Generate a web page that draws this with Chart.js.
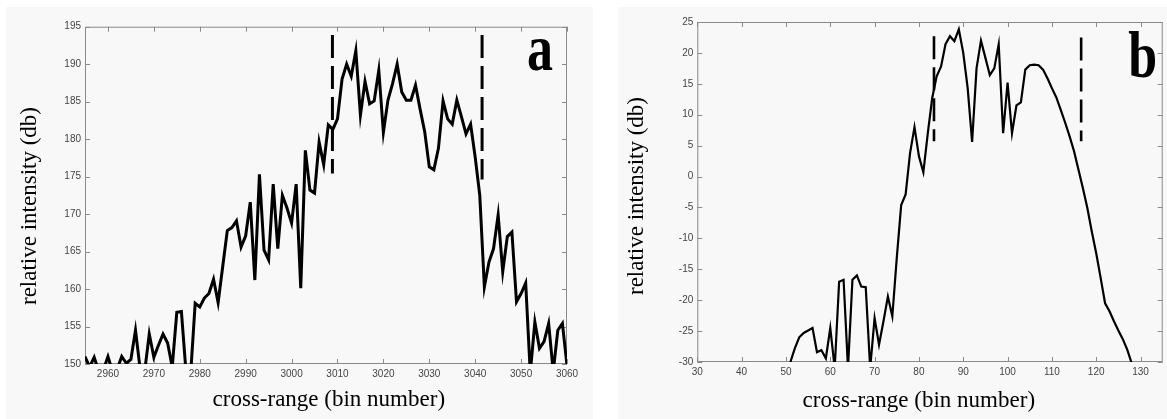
<!DOCTYPE html>
<html>
<head>
<meta charset="utf-8">
<title>cross-range profiles</title>
<script src="https://cdn.jsdelivr.net/npm/chart.js@4.4.0/dist/chart.umd.min.js"></script>
<style>
    body { margin: 0; background: #ffffff; width: 1167px; height: 419px; position: relative; overflow: hidden; }
    .panel { position: absolute; background: #f8f8f8; }
    #panelA { left: 6px; top: 7px; width: 587px; height: 412px; }
    #panelB { left: 618px; top: 7px; width: 549px; height: 412px; }
    canvas { display: block; }
</style>
</head>
<body>
<div class="panel" id="panelA"><canvas id="chartA" width="587" height="412"></canvas></div>
<div class="panel" id="panelB"><canvas id="chartB" width="549" height="412"></canvas></div>
<script>
//////////////
//
//   PANEL A  (bins 2955 - 3060)
//
//////////////

    var firstBinA = 2955;
    var intensityA = [
        151.0, 149.6, 150.9, 149.0, 149.2, 151.0, 149.0, 149.3, 151.0, 150.1,   // 2955-2964
        150.6, 154.5, 149.4, 149.0, 154.0, 150.9, 152.5, 154.0, 152.8, 149.6,   // 2965-2974
        156.9, 157.0, 149.0, 148.5, 158.1, 157.6, 158.8, 159.4, 161.3, 158.2,   // 2975-2984
        163.0, 167.8, 168.2, 169.1, 165.6, 167.1, 171.6, 161.2, 175.3, 165.2,   // 2985-2994
        163.9, 174.0, 165.4, 172.5, 170.8, 168.8, 174.0, 160.1, 178.5, 173.2,   // 2995-3004
        172.8, 179.6, 176.6, 181.9, 181.3, 182.7, 188.0, 190.0, 188.4, 191.8,   // 3005-3014
        183.2, 187.7, 184.7, 185.1, 189.2, 180.9, 185.2, 187.4, 190.0, 186.3,   // 3015-3024
        185.2, 185.2, 187.2, 184.0, 181.0, 176.3, 175.9, 178.8, 185.1, 182.7,   // 3025-3034
        182.0, 185.2, 183.0, 180.7, 182.0, 177.6, 172.5, 160.3, 163.6, 165.4,   // 3035-3044
        169.9, 162.3, 167.0, 167.6, 158.3, 159.4, 160.8, 148.8, 155.6, 152.1,   // 3045-3054
        153.0, 155.4, 149.0, 154.5, 155.4, 149.8                                // 3055-3060
    ];
    // dashed window limits: [bin, top, bottom]
    var windowA = [[3008.9, 193.9, 175.4], [3041.5, 193.9, 174.6]];
    var xTicksA = [2960, 2970, 2980, 2990, 3000, 3010, 3020, 3030, 3040, 3050, 3060];
    var yTicksA = [150, 155, 160, 165, 170, 175, 180, 185, 190, 195];

//////////////
//
//   PANEL B  (bins 30 - 135)
//
//////////////

    var firstBinB = 50;
    var intensityB = [
        -32.0, -30.0, -27.8, -26.0, -25.3, -24.9, -24.5, -28.4, -28.1, -29.4,   // 50-59
        -24.5, -31.0, -17.0, -16.7, -31.0, -16.7, -16.0, -17.8, -17.9, -31.0,   // 60-69
        -22.9, -27.2, -23.4, -19.4, -22.6, -13.2,  -4.6,  -2.9,   3.8,   8.0,   // 70-79
          3.3,   0.7,   7.0,  12.7,  16.2,  17.8,  21.4,  22.7,  21.9,  23.8,   // 80-89
         20.0,  14.3,   5.6,  17.5,  22.0,  19.2,  16.4,  17.5,  21.4,   7.0,   // 90-99
         15.2,   7.0,  11.5,  12.0,  17.3,  18.0,  18.1,  18.0,  17.3,  15.9,   // 100-109
         14.3,  12.8,  10.8,   8.7,   6.5,   4.1,   1.1,  -1.9,  -5.1,  -8.9,   // 110-119
        -12.4, -16.4, -20.5, -21.8, -23.4, -24.9, -26.3, -28.0, -30.2, -32.5    // 120-129
    ];
    var windowB = [[83.4, 22.7, 5.7], [116.6, 22.5, 5.7]];
    var xTicksB = [30, 40, 50, 60, 70, 80, 90, 100, 110, 120, 130];
    var yTicksB = [-30, -25, -20, -15, -10, -5, 0, 5, 10, 15, 20, 25];


    var tickFont = { family: '"Liberation Sans", Arial, sans-serif', size: 10 };
    var tickColor = '#444444';
    var boxColor = '#8a8a8a';

    function toPoints(firstBin, values) {
        return values.map(function (v, i) {
            return { x: firstBin + i, y: v };
        });
    }

    // box, inward tick marks, axis titles and panel letter (MATLAB look)
    var panelDecor = {
        id: 'panelDecor',
        beforeDatasetsDraw: function (chart, args, opts) {
            var ctx = chart.ctx, a = chart.chartArea;
            var xs = chart.scales.x, ys = chart.scales.y;
            ctx.save();
            ctx.strokeStyle = boxColor;
            ctx.lineWidth = 1;
            ctx.strokeRect(a.left + 0.5, a.top + 0.5, a.right - a.left - 1, a.bottom - a.top - 1);
            ctx.beginPath();
            xs.ticks.forEach(function (t) {
                var px = Math.round(xs.getPixelForValue(t.value)) + 0.5;
                ctx.moveTo(px, a.bottom); ctx.lineTo(px, a.bottom - 5);
                ctx.moveTo(px, a.top); ctx.lineTo(px, a.top + 5);
            });
            ys.ticks.forEach(function (t) {
                var py = Math.round(ys.getPixelForValue(t.value)) + 0.5;
                ctx.moveTo(a.left, py); ctx.lineTo(a.left + 5, py);
                ctx.moveTo(a.right, py); ctx.lineTo(a.right - 5, py);
            });
            ctx.stroke();
            ctx.restore();
        },
        afterDraw: function (chart, args, opts) {
            var ctx = chart.ctx;
            ctx.save();
            ctx.fillStyle = '#000000';
            ctx.font = '23px "Liberation Serif", "Times New Roman", serif';
            ctx.textAlign = 'center';
            ctx.textBaseline = 'middle';
            ctx.fillText('cross-range (bin number)', opts.xTitle[0], opts.xTitle[1]);

            ctx.save();
            ctx.translate(opts.yTitle[0], opts.yTitle[1]);
            ctx.rotate(-Math.PI / 2);
            ctx.fillText('relative intensity (db)', 0, 0);
            ctx.restore();

            // bold panel letter, drawn a little taller than wide
            ctx.translate(opts.letterAt[0], opts.letterAt[1]);
            ctx.scale(1, 1.28);
            ctx.font = 'bold 52px "Liberation Serif", "Times New Roman", serif';
            ctx.textAlign = 'left';
            ctx.textBaseline = 'alphabetic';
            ctx.fillText(opts.letter, 0, 0);
            ctx.restore();
        }
    };

    function makeChart(id, cfg) {
        var datasets = [{
            data: toPoints(cfg.firstBin, cfg.values),
            borderColor: '#000000',
            borderWidth: cfg.lineWidth,
            pointRadius: 0,
            tension: 0,
            clip: 0
        }];
        cfg.window.forEach(function (w) {
            datasets.push({
                data: [{ x: w[0], y: w[1] }, { x: w[0], y: w[2] }],
                borderColor: '#000000',
                borderWidth: cfg.dashWidth,
                borderDash: [23, 8],
                pointRadius: 0,
                clip: 0
            });
        });

        var ctx = document.getElementById(id).getContext('2d');
        return new Chart(ctx, {
            type: 'line',
            data: { datasets: datasets },
            plugins: [panelDecor],
            options: {
                responsive: false,
                animation: false,
                layout: { padding: { top: cfg.padTop, right: cfg.padRight, left: 0, bottom: 0 } },
                plugins: {
                    legend: { display: false },
                    tooltip: { enabled: false },
                    panelDecor: { xTitle: cfg.xTitle, yTitle: cfg.yTitle, letter: cfg.letter, letterAt: cfg.letterAt }
                },
                scales: {
                    x: {
                        type: 'linear',
                        min: cfg.xMin,
                        max: cfg.xMax,
                        afterBuildTicks: function (s) { s.ticks = cfg.xTicks.map(function (v) { return { value: v }; }); },
                        afterFit: function (s) { s.height = cfg.xHeight; },
                        grid: { display: false, drawTicks: false },
                        border: { display: false },
                        ticks: {
                            padding: 4, autoSkip: false, maxRotation: 0,
                            font: tickFont, color: tickColor,
                            callback: function (v) { return String(v); }
                        }
                    },
                    y: {
                        min: cfg.yMin,
                        max: cfg.yMax,
                        afterBuildTicks: function (s) { s.ticks = cfg.yTicks.map(function (v) { return { value: v }; }); },
                        afterFit: function (s) { s.width = cfg.yWidth; },
                        grid: { display: false, drawTicks: false },
                        border: { display: false },
                        ticks: {
                            padding: 4, autoSkip: false,
                            font: tickFont, color: tickColor,
                            callback: function (v) { return String(v); }
                        }
                    }
                }
            }
        });
    }

    window.chartA = makeChart('chartA', {
        firstBin: firstBinA, values: intensityA, window: windowA,
        xTicks: xTicksA, yTicks: yTicksA,
        xMin: 2955, xMax: 3060, yMin: 150, yMax: 195,
        lineWidth: 3, dashWidth: 3,
        padTop: 19.7, padRight: 26, yWidth: 79, xHeight: 55,
        xTitle: [322.8, 393], yTitle: [24, 199],
        letter: 'a', letterAt: [521, 63]
    });

    window.chartB = makeChart('chartB', {
        firstBin: firstBinB, values: intensityB, window: windowB,
        xTicks: xTicksB, yTicks: yTicksB,
        xMin: 30, xMax: 135, yMin: -30, yMax: 25,
        lineWidth: 2.2, dashWidth: 2.6,
        padTop: 15, padRight: 4.3, yWidth: 79.3, xHeight: 57,
        xTitle: [300.8, 394], yTitle: [19, 189],
        letter: 'b', letterAt: [510.3, 70.3]
    });
</script>
</body>
</html>
